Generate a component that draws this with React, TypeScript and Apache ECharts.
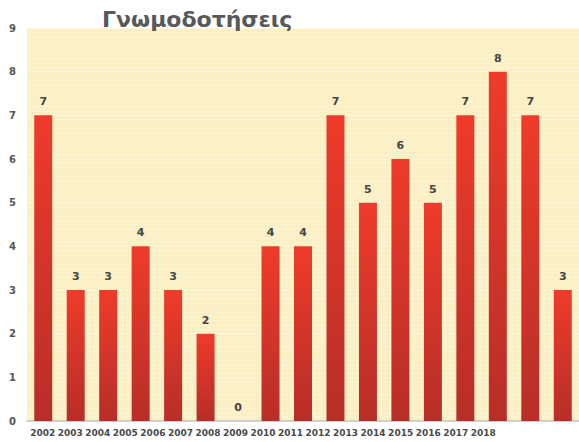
import React, { useEffect, useRef } from "react";
import * as echarts from "echarts";

const years = ["2002","2003","2004","2005","2006","2007","2008","2009","2010","2011","2012","2013","2014","2015","2016","2017","2018"];
const values = [7, 3, 3, 4, 3, 2, 0, 4, 4, 7, 5, 6, 5, 7, 8, 7, 3];
const yMax = 9;

export default function App() {
  const ref = useRef<HTMLDivElement>(null);
  useEffect(() => {
    const chart = echarts.init(ref.current!, null, { renderer: "svg" });
    const font = "DejaVu Sans";
    chart.setOption({
      animation: false,
      backgroundColor: "#ffffff",
      title: {
        text: "Γνωμοδοτήσεις",
        left: 97,
        top: 3,
        textStyle: { fontFamily: font, fontSize: 22, fontWeight: "bold", color: "#595959" },
      },
      grid: [
        { left: 27, right: -3, top: 28, bottom: 21, show: true, backgroundColor: "#fbefc4", borderWidth: 0 },
        { left: 29, width: 468, top: 28, bottom: 21, show: false },
      ],
      xAxis: [
        {
          type: "category",
          gridIndex: 0,
          data: years,
          axisLine: { show: true, lineStyle: { color: "#cfcfcf", width: 2 } },
          axisTick: { show: false },
          axisLabel: { show: false },
          splitLine: { show: false },
        },
        {
          type: "category",
          gridIndex: 1,
          data: years,
          axisLine: { show: false },
          axisTick: { show: false },
          axisLabel: { show: true, fontFamily: font, fontSize: 9, fontWeight: "bold", color: "#4a4a4a", margin: 7, interval: 0 },
        },
      ],
      yAxis: [
        {
          type: "value",
          gridIndex: 0,
          min: 0,
          max: yMax,
          interval: 1,
          axisLine: { show: false },
          axisTick: { show: false },
          axisLabel: { fontFamily: font, fontSize: 10, fontWeight: "bold", color: "#555555", margin: 11 },
          splitLine: { show: true, lineStyle: { color: "rgba(255,255,255,0.4)", width: 1 } },
          minorTick: { show: false, splitNumber: 10 },
          minorSplitLine: { show: true, lineStyle: { color: "rgba(255,255,255,0.25)", width: 1 } },
        },
        {
          type: "value",
          gridIndex: 1,
          min: 0,
          max: yMax,
          show: false,
        },
      ],
      series: [
        {
          type: "bar",
          xAxisIndex: 0,
          yAxisIndex: 0,
          data: values,
          barWidth: 18,
          itemStyle: {
            color: new echarts.graphic.LinearGradient(0, 0, 0, 1, [
              { offset: 0, color: "#ef3b2b" },
              { offset: 1, color: "#b72e28" },
            ]),
          },
          label: {
            show: true,
            position: "top",
            distance: 8,
            fontFamily: font,
            fontSize: 11,
            fontWeight: "bold",
            color: "#444444",
          },
        },
      ],
    });
    return () => chart.dispose();
  }, []);
  return <div ref={ref} style={{ width: 579, height: 442, position: "absolute", left: 0, top: 0 }} />;
}
